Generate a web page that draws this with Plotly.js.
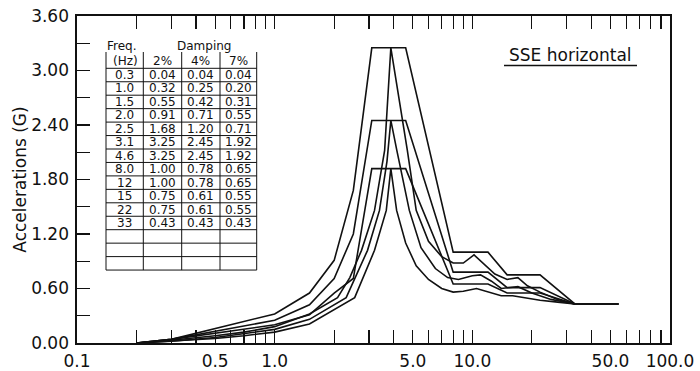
<!DOCTYPE html>
<html><head><meta charset="utf-8">
<script src="https://cdn.plot.ly/plotly-3.0.1.min.js"></script>
<style>html,body{margin:0;padding:0;background:#fff}</style>
</head><body><div id="chart" style="width:700px;height:371px"></div>
<script>
// ---- data ----
const tableFreq = [0.3, 1.0, 1.5, 2.0, 2.5, 3.1, 4.6, 8.0, 12, 15, 22, 33];
const damp2 = [0.04, 0.32, 0.55, 0.91, 1.68, 3.25, 3.25, 1.00, 1.00, 0.75, 0.75, 0.43];
const damp4 = [0.04, 0.25, 0.42, 0.71, 1.20, 2.45, 2.45, 0.78, 0.78, 0.61, 0.61, 0.43];
const damp7 = [0.04, 0.20, 0.31, 0.55, 0.71, 1.92, 1.92, 0.65, 0.65, 0.55, 0.55, 0.43];
const dampingLabels = ['2%', '4%', '7%'];
const startFreq = 0.2, startAcc = 0.0;
const endFreq = 55, endAcc = 0.43;

const smoothFreq2 = [0.2,0.3,0.5,0.7,1.0,1.5,2.08,2.4,2.75,3.2,3.6,3.87,4.69,5.2,6.0,7.0,8.0,9.0,10.2,11.5,13,15,17,19,22,27,33];
const smoothAcc2  = [0,0.03,0.08,0.12,0.18,0.32,0.50,0.72,1.02,1.46,2.12,3.25,2.12,1.46,1.12,0.95,0.88,0.88,0.97,0.87,0.76,0.70,0.72,0.63,0.56,0.48,0.43];
const smoothFreq4 = [0.2,0.3,0.5,0.7,1.0,1.5,2.3,2.95,3.39,3.7,3.87,4.15,4.8,5.5,6.5,7.5,8.5,10,11,12.5,14,17,20,25,33];
const smoothAcc4  = [0,0.02,0.06,0.10,0.15,0.26,0.50,1.02,1.46,2.0,2.45,2.12,1.46,1.05,0.82,0.72,0.70,0.74,0.75,0.68,0.60,0.62,0.55,0.48,0.43];
const smoothFreq7 = [0.2,0.3,0.5,0.7,1.0,1.5,2.54,3.2,3.67,3.87,4.14,4.6,5.2,6,7,8,9,10.5,12,14,16,18,22,27,33];
const smoothAcc7  = [0,0.02,0.05,0.08,0.12,0.21,0.50,1.02,1.46,1.92,1.46,1.10,0.85,0.70,0.60,0.56,0.57,0.60,0.56,0.52,0.52,0.50,0.47,0.45,0.43];

const xTickVals = [0.1,0.2,0.3,0.4,0.5,0.6,0.7,0.8,0.9,1,2,3,4,5,6,7,8,9,10,20,30,40,50,60,70,80,90,100];
const xTickLabels = {0.1:'0.1', 0.5:'0.5', 1:'1.0', 5:'5.0', 10:'10.0', 50:'50.0', 100:'100.0'};
const yTickVals = [0,0.3,0.6,0.9,1.2,1.5,1.8,2.1,2.4,2.7,3.0,3.3,3.6];
const yLabelStep = 0.6;

// ---- geometry (pixels) ----
const L = 77, R = 670, T = 16, B = 343;
const px = x => (x - L) / (R - L);
const py = y => (B - y) / (B - T);
const FONT = 'DejaVu Sans';

const designSets = [damp2, damp4, damp7];
const smoothSets = [[smoothFreq2, smoothAcc2], [smoothFreq4, smoothAcc4], [smoothFreq7, smoothAcc7]];
const line = {color: '#111', width: 1.6};
const traces = [];
designSets.forEach(d => traces.push({
  type: 'scatter', mode: 'lines', x: [startFreq, ...tableFreq, endFreq], y: [startAcc, ...d, endAcc],
  line: line, hoverinfo: 'skip', showlegend: false
}));
smoothSets.forEach(s => traces.push({
  type: 'scatter', mode: 'lines', x: s[0], y: s[1],
  line: line, hoverinfo: 'skip', showlegend: false
}));

// ---- table ----
const colX = [106, 143.3, 181.7, 220, 256.7];
const tableTop = 52, headerLine = 68.3, rowH = 13.45, nRows = 15;
const tableBottom = headerLine + rowH * nRows;
const shapes = [];
const tl = {color: '#111', width: 1};
colX.forEach(x => shapes.push({type: 'line', xref: 'paper', yref: 'paper', x0: px(x), x1: px(x), y0: py(tableTop), y1: py(tableBottom), line: tl}));
for (let k = 0; k <= nRows; k++) {
  const y = headerLine + rowH * k;
  shapes.push({type: 'line', xref: 'paper', yref: 'paper', x0: px(colX[0]), x1: px(colX[4]), y0: py(y), y1: py(y), line: tl});
}
// underline of the box label
shapes.push({type: 'line', xref: 'paper', yref: 'paper', x0: px(504), x1: px(637), y0: py(65.5), y1: py(65.5), line: {color: '#111', width: 1.3}});

const annotations = [];
const ann = (text, x, y, size, xanchor) => annotations.push({
  text: text, xref: 'paper', yref: 'paper', x: px(x), y: py(y), xanchor: xanchor || 'center', yanchor: 'middle',
  showarrow: false, font: {family: FONT, size: size, color: '#111'}, borderpad: 0
});
ann('Freq.', 122, 45.5, 12);
ann('Damping', 204, 46, 12);
ann('(Hz)', 125, 60.5, 12);
const colC = [0, 1, 2, 3].map(i => (colX[i] + colX[i + 1]) / 2);
dampingLabels.forEach((t, i) => ann(t, colC[i + 1], 60.5, 12));
tableFreq.forEach((f, i) => {
  const y = headerLine + rowH * (i + 0.5);
  ann(f >= 10 ? String(f) : f.toFixed(1), colC[0], y, 12);
  ann(damp2[i].toFixed(2), colC[1], y, 12);
  ann(damp4[i].toFixed(2), colC[2], y, 12);
  ann(damp7[i].toFixed(2), colC[3], y, 12);
});
ann('SSE horizontal', 570.5, 55, 17);

const layout = {
  width: 700, height: 371,
  margin: {l: L, r: 700 - R, t: T, b: 371 - B, pad: 0},
  paper_bgcolor: '#fff', plot_bgcolor: '#fff',
  showlegend: false,
  font: {family: FONT, color: '#111'},
  xaxis: {
    type: 'log', range: [-1, 2], tickmode: 'array', tickvals: xTickVals,
    ticktext: xTickVals.map(v => xTickLabels[v] || ''),
    ticks: 'inside', ticklen: 13, tickwidth: 1.2, tickcolor: '#111',
    showline: true, linecolor: '#111', linewidth: 1.6, mirror: 'ticks',
    showgrid: false, zeroline: false, tickfont: {family: FONT, size: 17, color: '#111'}, ticklabelstandoff: 2
  },
  yaxis: {
    range: [0, 3.6], tickmode: 'array', tickvals: yTickVals,
    ticktext: yTickVals.map(v => (Math.abs(v / yLabelStep - Math.round(v / yLabelStep)) < 1e-6) ? v.toFixed(2) : ''),
    ticks: 'inside', ticklen: 13, tickwidth: 1.2, tickcolor: '#111',
    showline: true, linecolor: '#111', linewidth: 1.6, mirror: true,
    showgrid: false, zeroline: false, tickfont: {family: FONT, size: 17, color: '#111'}, ticklabelstandoff: 3,
    title: {text: 'Accelerations (G)', font: {family: FONT, size: 17, color: '#111'}, standoff: 0}
  },
  shapes: shapes,
  annotations: annotations
};
Plotly.newPlot('chart', traces, layout, {staticPlot: true, displayModeBar: false});
</script></body></html>
